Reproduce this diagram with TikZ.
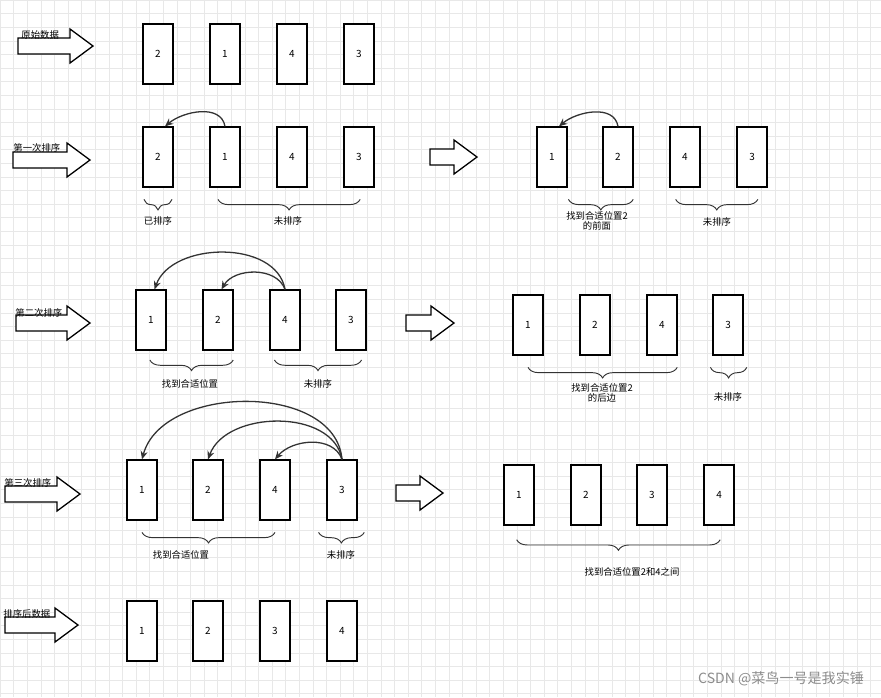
\documentclass[tikz,border=0pt]{standalone}
\usepackage{fontspec}
\setmainfont{Noto Sans CJK SC}
\usetikzlibrary{arrows.meta,decorations.pathreplacing}

\tikzset{
  cell/.style={draw, line width=1.1pt, fill=white, minimum width=30*0.03cm, minimum height=60*0.03cm, inner sep=0pt, font=\fontsize{8.5}{9}\selectfont},
  tag/.style={font=\fontsize{8}{9}\selectfont, align=center, inner sep=1pt},
  brc/.style={decorate, decoration={brace, mirror, amplitude=9pt}, line width=0.8pt, black!80},
  jump/.style={-{Stealth[length=7pt,width=6pt]}, line width=1.1pt, black!80},
}
% block arrow: x-left, x-right, y-centre
\newcommand{\blockarrow}[3]{%
  \draw[line width=1.1pt, fill=white] (#1,#3+8) -- (#2-23,#3+8) -- (#2-23,#3+17) -- (#2,#3)
    -- (#2-23,#3-17) -- (#2-23,#3-8) -- (#1,#3-8) -- cycle;}

\begin{document}
\begin{tikzpicture}[x=0.03cm, y=0.03cm]
    \useasboundingbox (0,0) rectangle (881,-697);
    \draw[black!9] (0,0) grid[step=13.6] (881,-697);

    % 原始数据
    \blockarrow{18}{93}{-46}
    \node[tag, anchor=west] at (20,-35) {原始数据};
    \foreach \x/\v [count=\i] in {158/2, 225/1, 292/4, 359/3}
      \node[cell] (a\i) at (\x,-54) {\v};

    % 第一次排序
    \blockarrow{13}{90}{-160}
    \node[tag, anchor=west] at (12,-148) {第一次排序};
    \foreach \x/\v [count=\i] in {158/2, 225/1, 292/4, 359/3}
      \node[cell] (b\i) at (\x,-157) {\v};
    \draw[jump] (b2.north) to[out=100, in=40] ([xshift=6]b1.north);
    \draw[brc] ([xshift=-12,yshift=-10]b1.south) -- ([xshift=12,yshift=-10]b1.south);
    \draw[brc] ([xshift=-6,yshift=-10]b2.south) -- ([xshift=1,yshift=-10]b4.south);
    \node[tag] (b5) at (158,-221) {已排序};
    \node[tag] (b6) at (288,-221) {未排序};
    \blockarrow{430}{477}{-157}
    \foreach \x/\v [count=\i] in {552/1, 618/2, 685/4, 752/3}
      \node[cell] (c\i) at (\x,-157) {\v};
    \draw[jump] (c2.north) to[out=100, in=40] ([xshift=6]c1.north);
    \draw[brc] ([xshift=14,yshift=-10]c1.south) -- ([xshift=13,yshift=-10]c2.south);
    \draw[brc] ([xshift=-8,yshift=-10]c3.south) -- ([xshift=5,yshift=-10]c4.south);
    \node[tag] (c5) at (597,-221) {找到合适位置2\\的前面};
    \node[tag] (c6) at (717,-222) {未排序};

    % 第二次排序
    \blockarrow{16}{90}{-323}
    \node[tag, anchor=west] at (14,-313) {第二次排序};
    \foreach \x/\v [count=\i] in {151/1, 218/2, 285/4, 351/3}
      \node[cell] (d\i) at (\x,-320) {\v};
    \draw[jump] (d3.north) to[out=100, in=70] ([xshift=3]d1.north);
    \draw[jump] (d3.north) to[out=110, in=60] ([xshift=3]d2.north);
    \draw[brc] ([xshift=-1,yshift=-8]d1.south) -- ([xshift=13,yshift=-8]d2.south);
    \draw[brc] ([xshift=-9,yshift=-8]d3.south) -- ([xshift=9,yshift=-8]d4.south);
    \node[tag] (d5) at (190,-384) {找到合适位置};
    \node[tag] (d6) at (318,-384) {未排序};
    \blockarrow{406}{454}{-323}
    \foreach \x/\v [count=\i] in {528/1, 595/2, 662/4, 728/3}
      \node[cell] (e\i) at (\x,-325) {\v};
    \draw[brc] ([yshift=-10]e1.south) -- ([xshift=13,yshift=-10]e3.south);
    \draw[brc] ([xshift=-15,yshift=-10]e4.south) -- ([xshift=16,yshift=-10]e4.south);
    \node[tag] (e5) at (602,-393) {找到合适位置2\\的后边};
    \node[tag] (e6) at (728,-397) {未排序};

    % 第三次排序
    \blockarrow{5}{80}{-494}
    \node[tag, anchor=west] at (3,-483) {第三次排序};
    \foreach \x/\v [count=\i] in {142/1, 208/2, 275/4, 342/3}
      \node[cell] (f\i) at (\x,-490) {\v};
    \draw[jump] (f4.north) to[out=95, in=75] ([xshift=0]f1.north);
    \draw[jump] (f4.north) to[out=100, in=70] ([xshift=0]f2.north);
    \draw[jump] (f4.north) to[out=110, in=50] ([xshift=0]f3.north);
    \draw[brc] ([yshift=-10]f1.south) -- ([yshift=-10]f3.south);
    \draw[brc] ([xshift=-20,yshift=-10]f4.south) -- ([xshift=19,yshift=-10]f4.south);
    \node[tag] (f5) at (181,-555) {找到合适位置};
    \node[tag] (f6) at (341,-555) {未排序};
    \blockarrow{396}{443}{-493}
    \foreach \x/\v [count=\i] in {519/1, 586/2, 652/3, 719/4}
      \node[cell] (g\i) at (\x,-495) {\v};
    \draw[brc] ([xshift=-2,yshift=-12]g1.south) -- ([xshift=1,yshift=-12]g4.south);
    \node[tag] (g5) at (632,-572) {找到合适位置2和4之间};

    % 排序后数据
    \blockarrow{5}{78}{-625}
    \node[tag, anchor=west] at (2,-614) {排序后数据};
    \foreach \x/\v [count=\i] in {142/1, 208/2, 275/3, 342/4}
      \node[cell] (h\i) at (\x,-631) {\v};

    \node[font=\fontsize{12}{13}\selectfont, text=black!45, anchor=east] (mark) at (868,-679) {CSDN @菜鸟一号是我实锤};
\end{tikzpicture}
\end{document}
